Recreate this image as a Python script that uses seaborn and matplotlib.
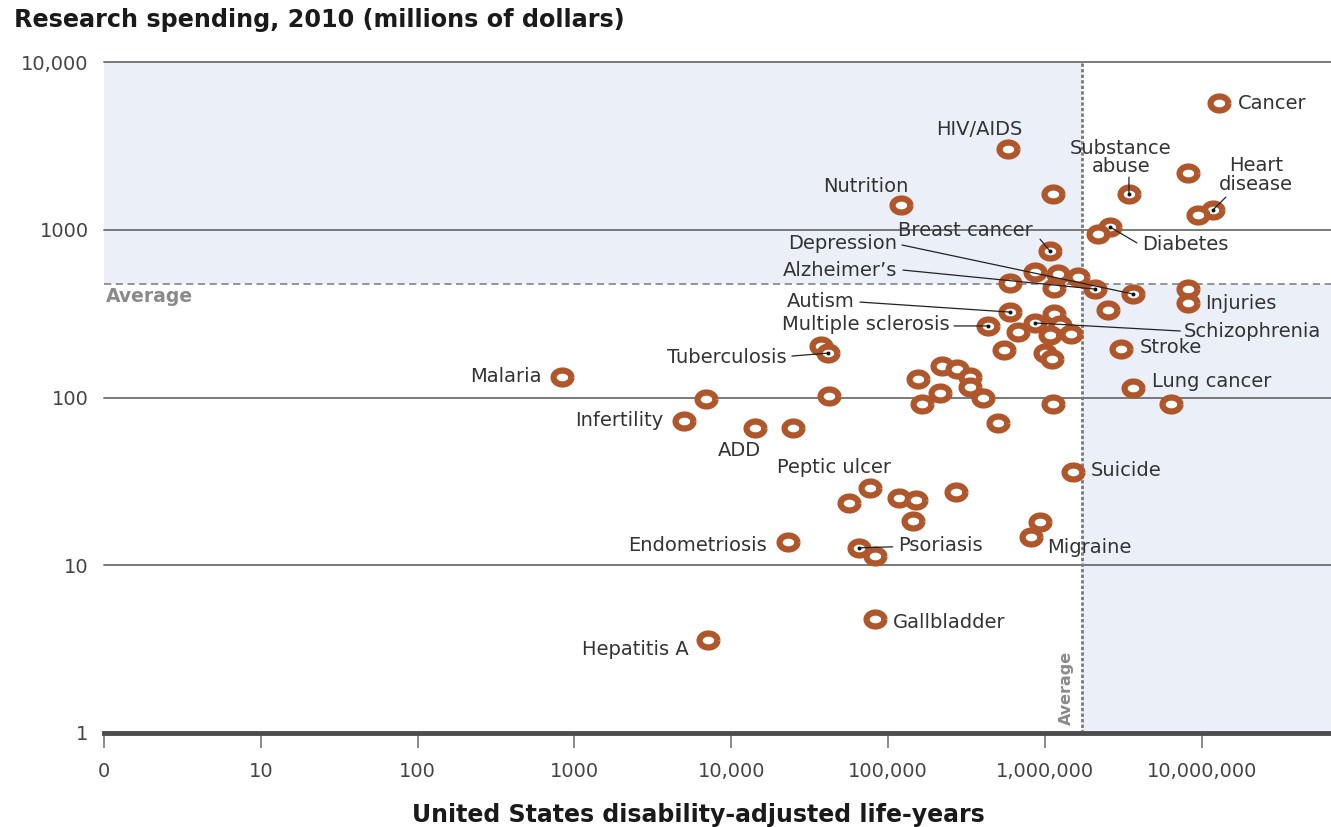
import numpy as np
import matplotlib
matplotlib.use("Agg")
import matplotlib.pyplot as plt
import matplotlib.transforms as mtransforms
from matplotlib.markers import MarkerStyle
from matplotlib.path import Path
from matplotlib.ticker import FixedLocator, FixedFormatter, NullLocator
import seaborn as sns

sns.set_theme(style="white")
plt.rcParams["font.family"] = ["DejaVu Sans"]

# ---- data ----
disease = [
    "Cancer", "HIV/AIDS", "", "Substance abuse", "", "Nutrition", "Heart disease", "",
    "Diabetes", "", "Breast cancer", "", "", "", "", "", "Alzheimer's", "Depression",
    "", "Injuries", "", "Autism", "", "Schizophrenia", "", "Multiple sclerosis", "", "",
    "", "Stroke", "", "", "", "", "Tuberculosis", "", "", "", "", "", "Lung cancer", "",
    "", "", "", "", "", "", "", "ADD", "", "Malaria", "Infertility", "Suicide",
    "Peptic ulcer", "", "", "", "", "", "", "Migraine", "Endometriosis", "Psoriasis", "",
    "Gallbladder", "Hepatitis A",
]
daly = [
    1.29e7, 5.8e5, 8.2e6, 3.44e6, 1.13e6, 1.21e5, 1.18e7, 9.5e6,
    2.6e6, 2.18e6, 1.08e6, 8.7e5, 1.21e6, 1.63e6, 6.0e5, 1.15e6, 2.09e6, 3.65e6,
    8.2e6, 8.2e6, 2.53e6, 6.0e5, 1.15e6, 8.7e5, 1.25e6, 4.35e5, 6.75e5, 1.08e6,
    1.47e6, 3.06e6, 5.5e5, 1.0e6, 1.11e6, 3.74e4, 4.14e4, 2.21e5, 2.75e5, 3.33e5,
    1.55e5, 3.33e5, 3.65e6, 2.15e5, 4.2e4, 6.9e3, 4.04e5, 1.65e5, 1.13e6, 6.4e6,
    5.0e5, 1.42e4, 2.48e4, 834, 5.0e3, 1.51e6,
    7.7e4, 5.6e4, 1.18e5, 1.51e5, 2.71e5, 1.44e5, 9.3e5, 8.2e5, 2.3e4, 6.5e4, 8.3e4,
    8.3e4, 7.1e3,
]
spending = [
    5700, 3030, 2180, 1630, 1630, 1405, 1310, 1225,
    1040, 945, 745, 560, 545, 523, 482, 450, 443, 414,
    443, 366, 332, 323, 315, 278, 271, 267, 246, 236,
    239, 195, 192, 184, 170, 203, 184, 154, 148, 133,
    129, 116, 114, 106, 102, 98, 99, 91.5, 91.5, 91.5,
    70.5, 65.8, 65.8, 133, 72.4, 36,
    28.9, 23.5, 25.2, 24.5, 27.3, 18.4, 18.1, 14.7, 13.8, 12.7, 11.4,
    4.8, 3.6,
]
avg_daly = 1.73e6
avg_spending = 475

x_ticks = [1, 10, 100, 1000, 1e4, 1e5, 1e6, 1e7]
x_ticklabels = ["0", "10", "100", "1000", "10,000", "100,000", "1,000,000", "10,000,000"]
y_ticks = [1, 10, 100, 1000, 10000]
y_ticklabels = ["1", "10", "100", "1000", "10,000"]

# label layout: text, dx, dy (pixels), ha, leader start (pixels) or None
label_layout = {
    "Cancer": ("Cancer", 19, -1, "left", None),
    "HIV/AIDS": ("HIV/AIDS", -28, 19, "center", None),
    "Substance abuse": ("Substance\nabuse", -8, 37, "center", (0, 17)),
    "Heart disease": ("Heart\ndisease", 43, 35, "center", (13, 13)),
    "Nutrition": ("Nutrition", -35, 18, "center", None),
    "Breast cancer": ("Breast cancer", -17, 21, "right", (-10, 12)),
    "Diabetes": ("Diabetes", 32, -18, "left", (27, -16)),
    "Depression": ("Depression", -236, 50, "right", (-231, 49)),
    "Alzheimer's": ("Alzheimer\u2019s", -198, 19, "right", (-192, 19)),
    "Autism": ("Autism", -155, 11, "right", (-150, 10)),
    "Multiple sclerosis": ("Multiple sclerosis", -38, 1, "right", (-34, 0)),
    "Schizophrenia": ("Schizophrenia", 148, -8, "left", (145, -8)),
    "Tuberculosis": ("Tuberculosis", -41, -4, "right", (-36, -3)),
    "Stroke": ("Stroke", 19, 1, "left", None),
    "Injuries": ("Injuries", 17, -1, "left", None),
    "Lung cancer": ("Lung cancer", 19, 6, "left", None),
    "Malaria": ("Malaria", -20, 0, "right", None),
    "Infertility": ("Infertility", -21, 1, "right", None),
    "ADD": ("ADD", -16, -23, "center", None),
    "Peptic ulcer": ("Peptic ulcer", -36, 20, "center", None),
    "Suicide": ("Suicide", 18, 1, "left", None),
    "Endometriosis": ("Endometriosis", -21, -4, "right", None),
    "Psoriasis": ("Psoriasis", 39, 2, "left", (34, 1)),
    "Migraine": ("Migraine", 16, -10, "left", None),
    "Gallbladder": ("Gallbladder", 18, -4, "left", None),
    "Hepatitis A": ("Hepatitis A", -19, -10, "right", None),
}

BROWN = "#B0562B"
SHADE = "#EBEFF7"
TEXT = "#333333"

# elliptical ring marker (the original is drawn slightly wide)
theta = np.linspace(0, 2 * np.pi, 61)
ring = MarkerStyle(Path(np.column_stack([np.cos(theta), 0.78 * np.sin(theta)])))

fig = plt.figure(figsize=(13.31, 8.27), dpi=100)
ax = fig.add_axes([104 / 1331, 94 / 827, 1227 / 1331, 671 / 827])
ax.set_xscale("log")
ax.set_yscale("log")
x_max = 10 ** (1227 / 156.8)
ax.set_xlim(1, x_max)
ax.set_ylim(1, 10000)

# quadrant shading
ax.fill_between([1, avg_daly], avg_spending, 10000, color=SHADE, lw=0, zorder=0)
ax.fill_between([avg_daly, x_max], 1, avg_spending, color=SHADE, lw=0, zorder=0)

# horizontal grid lines
for yt in y_ticks[1:]:
    ax.axhline(yt, color="#6e6e6e", lw=1.3, zorder=1, clip_on=False)

# average lines
ax.axhline(avg_spending, color="#8c8c8c", lw=1.3, ls=(0, (4, 2.5)), zorder=1)
ax.axvline(avg_daly, color="#7a7a7a", lw=2.0, ls=(0, (1.2, 0.8)), zorder=1)

sns.scatterplot(x=daly, y=spending, ax=ax, marker=ring, s=165, color="white",
                edgecolor=BROWN, linewidth=4.5, zorder=4, legend=False)

for name, x, y in zip(disease, daly, spending):
    if name not in label_layout:
        continue
    text, dx, dy, ha, lead = label_layout[name]
    ax.annotate(text, xy=(x, y), xytext=(dx, dy), textcoords="offset pixels",
                ha=ha, va="center", fontsize=14, color=TEXT, linespacing=0.95,
                zorder=6)
    if lead is not None:
        ax.annotate("", xy=(x, y), xytext=lead, textcoords="offset pixels",
                    arrowprops=dict(arrowstyle="-", color="#222222", lw=0.9,
                                    shrinkA=0, shrinkB=0), zorder=5)
        ax.scatter([x], [y], s=8, color="#111111", zorder=6, linewidths=0)

# "Average" labels
blend = mtransforms.blended_transform_factory(ax.transAxes, ax.transData)
ax.annotate("Average", xy=(0, avg_spending), xycoords=blend, xytext=(2, -13),
            textcoords="offset pixels", ha="left", va="center", fontsize=13.5,
            fontweight="bold", color="#8a8a8a")
ax.annotate("Average", xy=(avg_daly, 1), xytext=(-16, 8), textcoords="offset pixels",
            ha="center", va="bottom", rotation=90, fontsize=11.5,
            fontweight="bold", color="#8a8a8a")

# axes styling
for side in ["top", "right", "left"]:
    ax.spines[side].set_visible(False)
ax.spines["bottom"].set_color("#4d4d4d")
ax.spines["bottom"].set_linewidth(3.5)
ax.spines["bottom"].set_zorder(3)

ax.xaxis.set_major_locator(FixedLocator(x_ticks))
ax.xaxis.set_major_formatter(FixedFormatter(x_ticklabels))
ax.xaxis.set_minor_locator(NullLocator())
ax.yaxis.set_major_locator(FixedLocator(y_ticks))
ax.yaxis.set_major_formatter(FixedFormatter(y_ticklabels))
ax.yaxis.set_minor_locator(NullLocator())
ax.tick_params(axis="x", length=11, width=1.2, color="#777777", pad=10,
               labelsize=14, labelcolor="#444444", bottom=True)
ax.tick_params(axis="y", length=0, pad=11, labelsize=14, labelcolor="#444444")
ax.set_xlabel("")
ax.set_ylabel("")

fig.text(14 / 1331, 1 - 20 / 827, "Research spending, 2010 (millions of dollars)",
         ha="left", va="center", fontsize=17.2, fontweight="bold", color="#1a1a1a")
fig.text(698 / 1331, 1 - 815 / 827, "United States disability-adjusted life-years",
         ha="center", va="center", fontsize=17, fontweight="bold", color="#1a1a1a")

fig.savefig("out.png", dpi=100)
